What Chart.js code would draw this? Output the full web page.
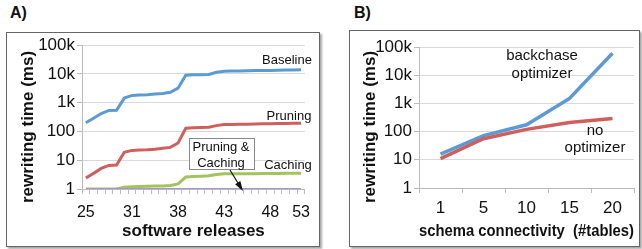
<!DOCTYPE html>
<html>
<head>
<meta charset="utf-8">
<script src="https://cdn.jsdelivr.net/npm/chart.js@4.4.1/dist/chart.umd.min.js"></script>
<style>
    body { margin: 0; background: #fff; width: 642px; height: 249px; overflow: hidden; position: relative; font-family: "Liberation Sans", Arial, sans-serif; }
    .tag { position: absolute; font-weight: bold; font-size: 16px; color: #111; }
    .frame { position: absolute; border: 1px solid #666; box-shadow: 2px 2px 2px rgba(0,0,0,0.35); background: #fff; }
    .frame canvas { position: absolute; left: 0; top: 0; }
</style>
</head>
<body>
<div class="tag" style="left:10px; top:4px;">A)</div>
<div class="tag" style="left:354px; top:4px;">B)</div>
<div class="frame" id="frameA" style="left:6px; top:32px; width:312px; height:213px;"><canvas id="chartA" width="312" height="213"></canvas></div>
<div class="frame" id="frameB" style="left:349px; top:30px; width:289px; height:215px;"><canvas id="chartB" width="289" height="215"></canvas></div>
<script>
// 数据：A) 软件版本
const releaseLabels = ['25','','','','','','31','','','','','','38','','','','','','43','','','','','','48','','','','53'];
const baseline = [200, 290, 420, 540, 550, 1450, 1800, 1850, 1900, 2000, 2100, 2300, 3200, 9000, 9300, 9400, 9600, 11500, 12500, 12600, 12700, 12900, 13100, 13200, 13300, 13400, 13600, 13800, 14000];
const pruning = [2.4, 3.5, 5.2, 6.6, 6.8, 19, 22, 22.5, 23, 24, 26, 28, 40, 130, 135, 138, 140, 160, 175, 176, 178, 180, 182, 184, 186, 188, 190, 192, 195];
const caching = [1, 1, 1, 1, 1, 1.15, 1.2, 1.22, 1.24, 1.26, 1.28, 1.32, 1.5, 2.6, 2.7, 2.8, 2.9, 3.2, 3.4, 3.4, 3.4, 3.4, 3.4, 3.45, 3.45, 3.45, 3.5, 3.5, 3.5];
const pruningCaching = [1, 1, 1, 1, 1, 1, 1, 1, 1, 1, 1, 1, 1, 1, 1, 1, 1, 1, 1, 1, 1, 1, 1, 1, 1, 1, 1, 1, 1];

// 数据：B) schema connectivity
const connectivity = ['1', '5', '10', '15', '20'];
const backchase = [16, 72, 175, 1500, 60000];
const noOptimizer = [11, 56, 120, 210, 290];

// 对数坐标刻度
const yTickValues = [1, 10, 100, 1000, 10000, 100000];
const yTickLabels = ['1', '10', '100', '1k', '10k', '100k'];

const FONT = '"Liberation Sans", Arial, sans-serif';
const GRID = '#d9d9d9';

function logAxis(width, tickSize) {
    return {
        type: 'logarithmic',
        min: 1,
        max: 100000,
        afterBuildTicks: function(scale) {
            scale.ticks = yTickValues.map(v => ({ value: v }));
        },
        afterFit: function(scale) { scale.width = width; },
        border: { color: '#bbb' },
        grid: { color: GRID, tickLength: 5, tickColor: '#bbb' },
        ticks: {
            color: '#111',
            padding: 2,
            font: { family: FONT, size: tickSize },
            callback: function(value) {
                const i = yTickValues.indexOf(value);
                return i >= 0 ? yTickLabels[i] : null;
            }
        }
    };
}

function catAxis(height, tickSize, tickPad, title) {
    return {
        type: 'category',
        offset: true,
        afterFit: function(scale) { scale.height = height; },
        border: { color: '#bbb' },
        grid: { display: true, drawOnChartArea: false, offset: true, tickLength: 5, tickColor: '#bbb' },
        ticks: {
            autoSkip: false,
            maxRotation: 0,
            color: '#111',
            padding: tickPad,
            font: { family: FONT, size: tickSize }
        },
        title: {
            display: true,
            text: title,
            color: '#111',
            padding: { top: 4, bottom: 4 },
            font: { family: FONT, size: 17, weight: 'bold' }
        }
    };
}

function series(data, color, width) {
    return {
        data: data,
        borderColor: color,
        backgroundColor: color,
        borderWidth: width,
        pointRadius: 0,
        tension: 0,
        fill: false
    };
}

// 注释文字 + 纵轴标题
function textPlugin(items, box, yTitle) {
    return {
        id: 'notes',
        afterDatasetsDraw: function(chart) {
            const ctx = chart.ctx;
            ctx.save();
            if (box) {
                ctx.fillStyle = '#fff';
                ctx.fillRect(box.x, box.y, box.w, box.h);
                ctx.strokeStyle = '#888';
                ctx.lineWidth = 1;
                ctx.strokeRect(box.x + 0.5, box.y + 0.5, box.w, box.h);
                // 箭头
                ctx.strokeStyle = '#111';
                ctx.lineWidth = 1.2;
                ctx.beginPath();
                ctx.moveTo(box.ax1, box.ay1);
                ctx.lineTo(box.ax2, box.ay2);
                ctx.stroke();
                const ang = Math.atan2(box.ay2 - box.ay1, box.ax2 - box.ax1);
                ctx.fillStyle = '#111';
                ctx.beginPath();
                ctx.moveTo(box.ax2 + 2, box.ay2 + 3);
                ctx.lineTo(box.ax2 - 7 * Math.cos(ang - 0.45), box.ay2 - 7 * Math.sin(ang - 0.45));
                ctx.lineTo(box.ax2 - 7 * Math.cos(ang + 0.45), box.ay2 - 7 * Math.sin(ang + 0.45));
                ctx.closePath();
                ctx.fill();
            }
            ctx.fillStyle = '#111';
            ctx.textAlign = 'center';
            ctx.textBaseline = 'middle';
            items.forEach(t => {
                ctx.font = t.size + 'px ' + FONT;
                ctx.fillText(t.text, t.x, t.y);
            });
            // 纵轴标题
            ctx.translate(yTitle.x, yTitle.y);
            ctx.rotate(-Math.PI / 2);
            ctx.font = 'bold 17px ' + FONT;
            ctx.fillText('rewriting time (ms)', 0, 0);
            ctx.restore();
        }
    };
}

function initCharts() {
    const ctxA = document.getElementById('chartA').getContext('2d');
    new Chart(ctxA, {
        type: 'line',
        data: {
            labels: releaseLabels,
            datasets: [
                series(pruningCaching, '#a793cf', 2),
                series(caching, '#a3c45c', 3),
                series(pruning, '#cf5f5c', 3),
                series(baseline, '#5b9bd5', 3)
            ]
        },
        options: {
            responsive: false,
            animation: false,
            layout: { padding: { left: 0, top: 11, right: 4, bottom: 0 } },
            plugins: { legend: { display: false }, tooltip: { enabled: false } },
            scales: {
                x: catAxis(57, 16, 9, 'software releases'),
                y: logAxis(75, 17)
            }
        },
        plugins: [textPlugin([
            { text: 'Baseline', x: 280, y: 27, size: 13 },
            { text: 'Pruning', x: 282, y: 83, size: 13 },
            { text: 'Caching', x: 281, y: 132, size: 13 },
            { text: 'Pruning &', x: 214, y: 114, size: 13 },
            { text: 'Caching', x: 214, y: 130, size: 13 }
        ], { x: 182, y: 105, w: 65, h: 31, ax1: 223, ay1: 137, ax2: 234, ay2: 155 }, { x: 21, y: 94 })]
    });

    const ctxB = document.getElementById('chartB').getContext('2d');
    new Chart(ctxB, {
        type: 'line',
        data: {
            labels: connectivity,
            datasets: [
                series(noOptimizer, '#cf5f5c', 3.5),
                series(backchase, '#5b9bd5', 3.5)
            ]
        },
        options: {
            responsive: false,
            animation: false,
            layout: { padding: { left: 0, top: 16, right: 5, bottom: 0 } },
            plugins: { legend: { display: false }, tooltip: { enabled: false } },
            scales: {
                x: catAxis(58, 17, 5, 'schema connectivity  (#tables)'),
                y: logAxis(69, 17)
            }
        },
        plugins: [textPlugin([
            { text: 'backchase', x: 192, y: 25, size: 15 },
            { text: 'optimizer', x: 192, y: 43, size: 15 },
            { text: 'no', x: 245, y: 100, size: 15 },
            { text: 'optimizer', x: 245, y: 117, size: 15 }
        ], null, { x: 20, y: 96 })]
    });
}

initCharts();
</script>
</body>
</html>
